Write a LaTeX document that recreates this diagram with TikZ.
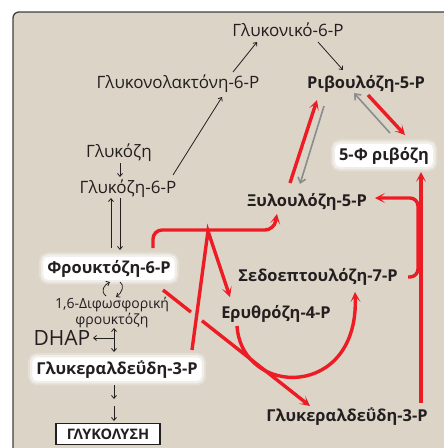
\documentclass[tikz,border=0pt]{standalone}
\usepackage{fontspec}
\setmainfont{Open Sans}
\usetikzlibrary{arrows.meta,calc}
\definecolor{panel}{RGB}{220,212,199}
\definecolor{frame}{RGB}{64,64,64}
\definecolor{pathred}{RGB}{237,28,36}
\definecolor{ink}{RGB}{35,31,32}
\definecolor{revgray}{RGB}{138,140,142}

\begin{document}
\begin{tikzpicture}[x=1pt,y=-1pt,
  lbl/.style={font=\fontsize{17}{19}\selectfont, text=ink, inner sep=1pt, anchor=base},
  strong/.style={lbl, font=\fontsize{16.4}{19}\selectfont\bfseries},
  glow/.style={fill=white, rounded corners=5pt, inner xsep=4pt, inner ysep=3pt,
    preaction={draw=white, line width=9pt, draw opacity=0.25},
    preaction={draw=white, line width=5pt, draw opacity=0.5}},
  blk/.style={draw=ink, line width=0.8pt, -{Straight Barb[length=3pt,width=5pt]}},
  blkboth/.style={draw=ink, line width=0.8pt, {Straight Barb[length=3pt,width=5pt]}-{Straight Barb[length=3pt,width=5pt]}},
  gry/.style={draw=revgray, line width=1.6pt, -{Straight Barb[length=5pt,width=8pt]}},
  redline/.style={draw=pathred, line width=3.4pt},
  redarrow/.style={redline, -{Stealth[length=10pt,width=10pt,inset=5.5pt]}},
]
\useasboundingbox (0,0) rectangle (444,448);
\clip (0,0) rectangle (444,448);

% panel
\fill[panel, rounded corners=6pt] (13,470) |- (470,12) -- (470,470) -- cycle;
\draw[frame, line width=1.3pt, rounded corners=6pt] (13,470) |- (470,12);

% metabolites
\node[lbl] (gluconate) at (288,36) {Γλυκονικό-6-P};
\node[lbl] (lactone) at (178,88) {Γλυκονολακτόνη-6-P};
\node[strong] (ru5p) at (366,88) {Ριβουλόζη-5-P};
\node[lbl] (glc) at (119,157) {Γλυκόζη};
\node[lbl] (g6p) at (128,193) {Γλυκόζη-6-P};
\node[strong, glow] (f6p) at (109,273) {Φρουκτόζη-6-P};
\node[strong, glow] (r5p) at (384,160) {5-Φ ριβόζη};
\node[strong] (x5p) at (307,206) {Ξυλουλόζη-5-P};
\node[strong] (s7p) at (318,281) {Σεδοεπτουλόζη-7-P};
\node[strong] (e4p) at (276,318) {Ερυθρόζη-4-P};
\node[strong] (g3pR) at (347,421) {Γλυκεραλδεΰδη-3-P};
\node[lbl, anchor=center, align=center, font=\fontsize{14}{16}\selectfont] (fbp) at (112,313) {1,6-Διφωσφορική\\φρουκτόζη};
\node[lbl, font=\fontsize{21}{23}\selectfont] (dhap) at (62,345) {DHAP};
\node[strong, glow] (g3pL) at (117,374) {Γλυκεραλδεΰδη-3-P};
\node[draw=ink, line width=1.8pt, fill=white, text=ink, font=\fontsize{14.5}{16}\selectfont\bfseries,
  minimum width=104pt, minimum height=21pt, inner sep=0pt] (glyc) at (108,434) {ΓΛΥΚΟΛΥΣΗ};

% oxidative branch
\draw[blk] ($(lactone.base)+(55,-16)$) -- ($(gluconate.base)+(-31,6)$);
\draw[blk] ($(gluconate.base)+(30,6)$) -- ($(ru5p.base)+(-23,-18)$);
\draw[blk] ($(g6p.base)+(45,-18)$) -- ($(lactone.base)+(44,9)$);

% glycolysis
\draw[blk] ($(glc.base)+(1,6)$) -- ($(g6p.base)+(-8,-16)$);
\draw[blk] ($(f6p.base)+(2,-25)$) -- ($(g6p.base)+(-17,5)$);
\draw[blk] ($(g6p.base)+(-8,5)$) -- ($(f6p.base)+(11,-23)$);
\draw[blk] ($(f6p.base)+(-3,23)$) .. controls +(-6,-5) and +(-6,3) .. ($(f6p.base)+(1,9)$);
\draw[blk] ($(f6p.base)+(11,9)$) .. controls +(5,3) and +(6,-4) .. ($(f6p.base)+(7,24)$);
\draw[blkboth] ($(g3pL.base)+(-3,-46)$) -- ($(g3pL.base)+(-3,-22)$);
\draw[blk] ($(g3pL.base)+(-3,-36)$) -- ($(dhap.base)+(31,-7)$);
\draw[blk] ($(g3pL.base)+(-3,11)$) -- ($(g3pL.base)+(-3,25)$);
\draw[blk] ($(glyc)+(6,-28)$) -- ($(glyc)+(6,-13)$);

% reverse (gray) steps
\draw[gry] ($(ru5p.base)+(-42,18)$) -- ($(x5p.base)+(-7,-22)$);
\draw[gry] ($(r5p.base)+(6,-27)$) -- ($(ru5p.base)+(-12,5)$);

% non-oxidative branch
\draw[redarrow] ($(x5p.base)+(-17,-23)$) -- ($(ru5p.base)+(-49,12)$);
\draw[redarrow] ($(ru5p.base)+(2,7)$) -- ($(r5p.base)+(21,-25)$);
\draw[redarrow] ($(g3pR.base)+(74,-18)$) -- ($(r5p.base)+(37,12)$);
\draw[redarrow, rounded corners=8pt] ($(s7p.base)+(90,-4)$) -| ($(x5p.base)+(111,-8)$) -- ($(x5p.base)+(68,-8)$);
\draw[redarrow, rounded corners=9pt] ($(f6p.base)+(44,-25)$) |- ($(x5p.base)+(-33,24)$) -- ($(x5p.base)+(-30,8)$);

\coordinate (apex) at (208,231);
\coordinate (dA) at ($(f6p.base)+(54,17)$);
\coordinate (dB) at ($(g3pR.base)+(-37,-15)$);
\draw[redline] (dA) -- ($(dA)!0.19!(dB)$);
\draw[redarrow] ($(dA)!0.265!(dB)$) -- (dB);
\draw[redarrow, line join=miter] ($(g3pL.base)+(75,-24)$) -- (apex) -- ($(e4p.base)+(-46,-21)$);
\draw[redarrow] ($(e4p.base)+(-39,8)$) .. controls +(5,72) and +(5,108) .. ($(s7p.base)+(37,11)$);
\end{tikzpicture}
\end{document}
